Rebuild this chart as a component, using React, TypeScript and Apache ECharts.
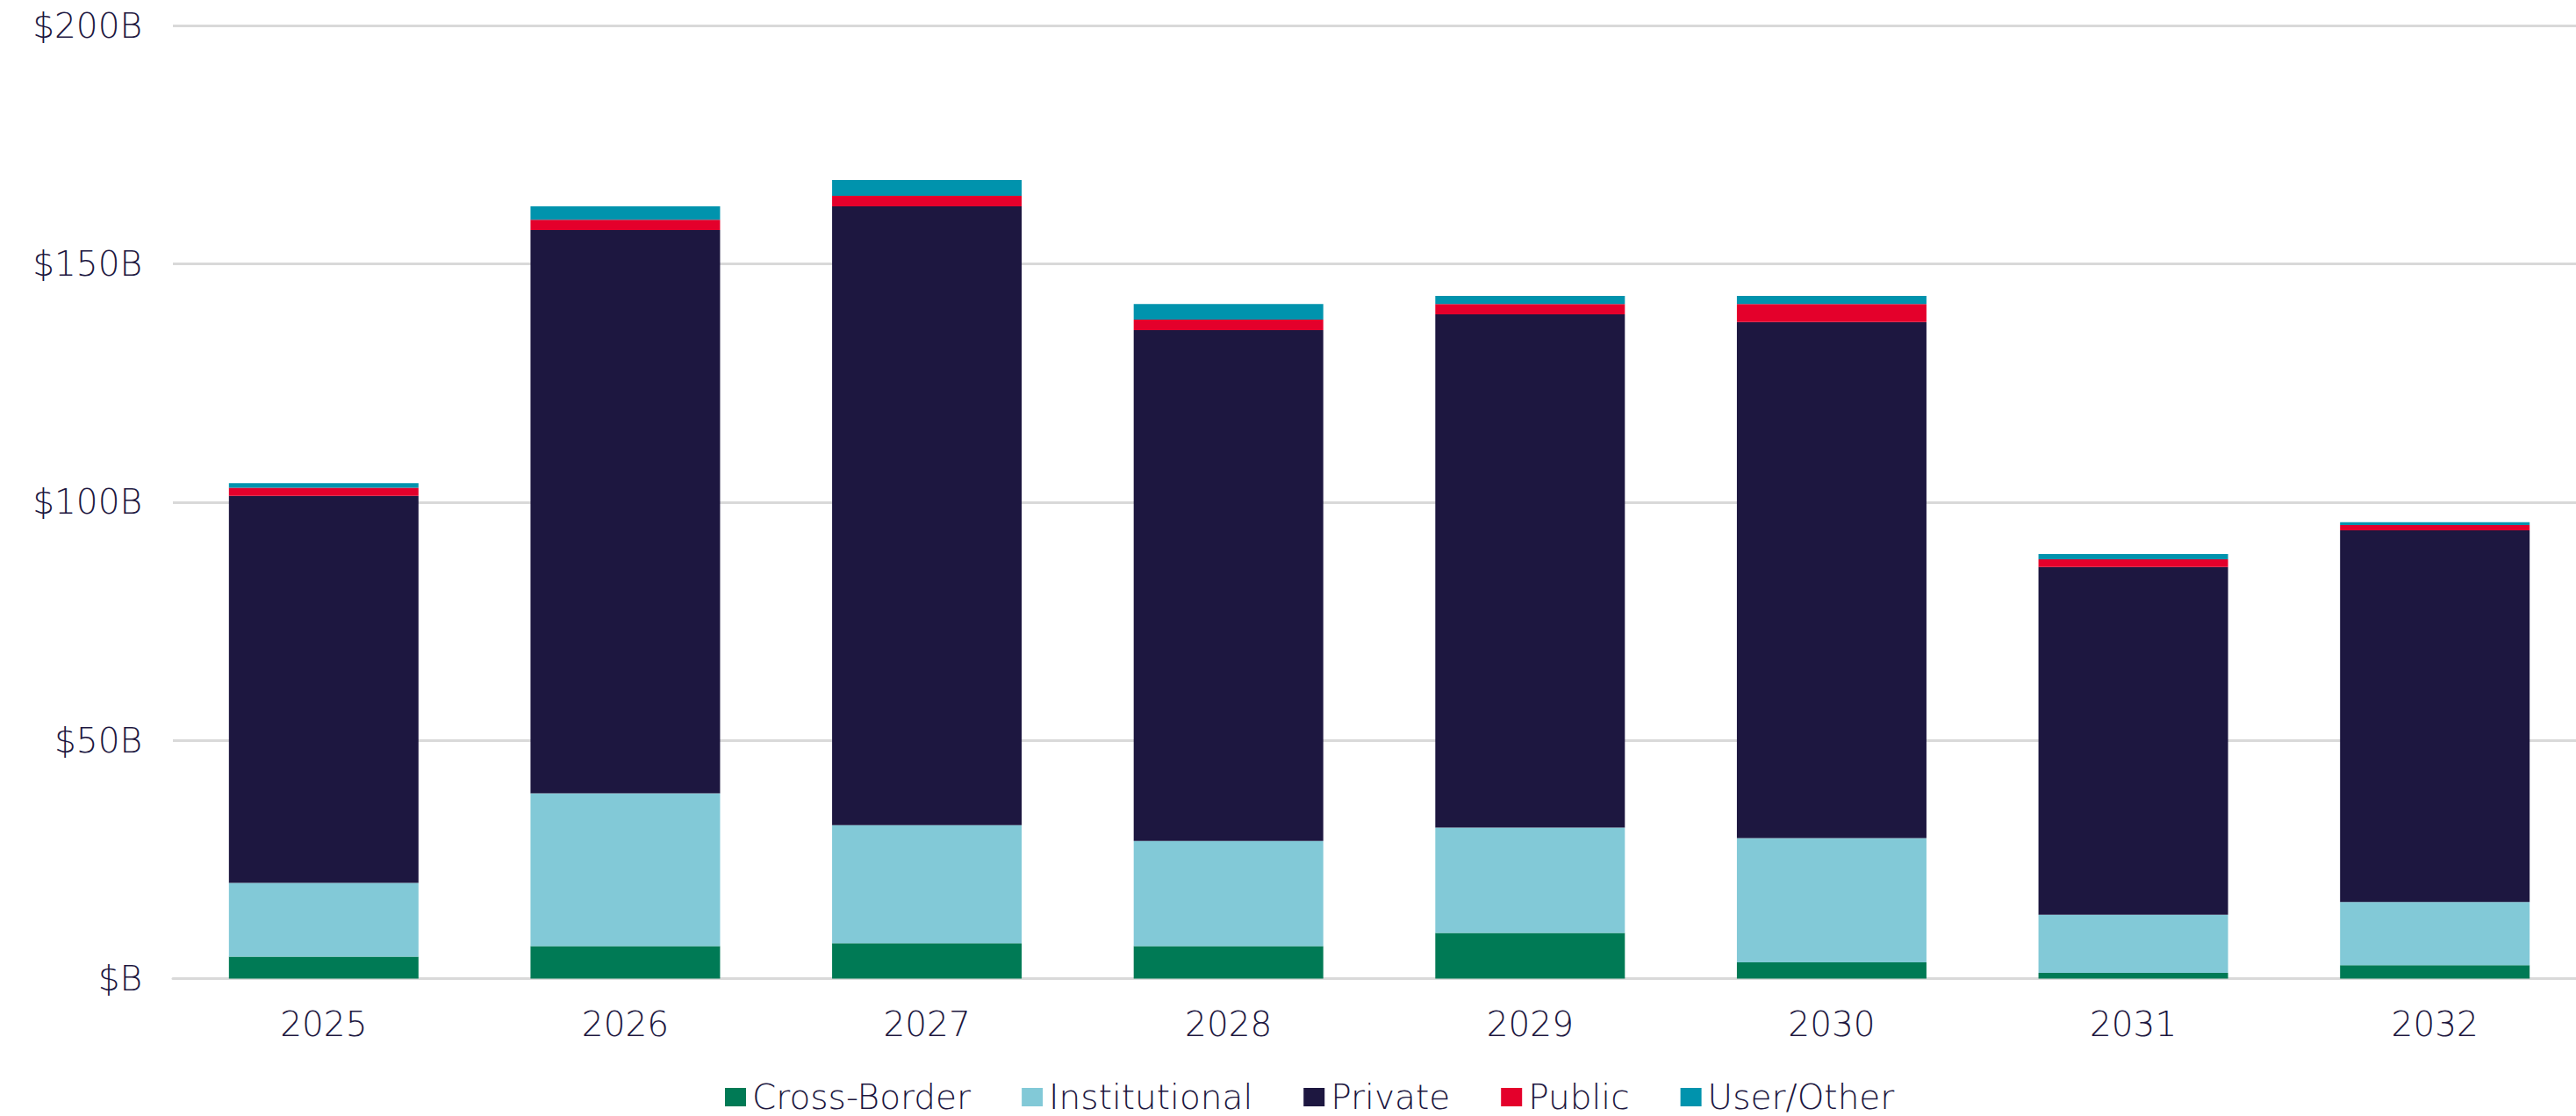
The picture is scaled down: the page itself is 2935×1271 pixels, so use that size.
import React, { useEffect, useRef } from "react";
import * as echarts from "echarts";

const years = ["2025", "2026", "2027", "2028", "2029", "2030", "2031", "2032"];
const crossBorder = [4.6, 6.8, 7.4, 6.8, 9.6, 3.4, 1.2, 2.8];
const institutional = [15.5, 32.1, 24.8, 22.1, 22.1, 26.1, 12.2, 13.3];
const privateVals = [81.2, 118.2, 129.9, 107.2, 107.7, 108.3, 73.0, 78.0];
const publicVals = [1.7, 2.2, 2.2, 2.2, 2.2, 3.8, 1.6, 1.1];
const userOther = [1.0, 2.8, 3.3, 3.3, 1.7, 1.7, 1.1, 0.6];
const yTicks = [0, 50, 100, 150, 200];

const seriesDefs = [
  { name: "Cross-Border", data: crossBorder, color: "#007a55" },
  { name: "Institutional", data: institutional, color: "#82c9d7" },
  { name: "Private", data: privateVals, color: "#1d1740" },
  { name: "Public", data: publicVals, color: "#e4002b" },
  { name: "User/Other", data: userOther, color: "#0093ad" },
];

const FONT = "DejaVu Sans";
const TEXT = "#1d1740";
const FS = 39;

export default function App() {
  const ref = useRef<HTMLDivElement>(null);
  useEffect(() => {
    if (!ref.current) return;
    const chart = echarts.init(ref.current, null, { renderer: "svg" });
    chart.setOption({
      animation: false,
      backgroundColor: "#ffffff",
      grid: { left: 197, right: 4, top: 29.3, bottom: 156.5 },
      legend: {
        left: 826,
        top: 1230,
        padding: 0,
        itemWidth: 24,
        itemHeight: 21,
        itemGap: 58,
        icon: "rect",
        textStyle: { fontFamily: FONT, fontSize: FS, fontWeight: 300, color: TEXT, padding: [0, 0, 0, 2] },
        data: seriesDefs.map((s) => s.name),
      },
      xAxis: {
        type: "category",
        data: years,
        axisLine: { show: true, lineStyle: { color: "#d9d9d9", width: 3 } },
        axisTick: { show: false },
        axisLabel: { margin: 32, fontFamily: FONT, fontSize: FS, fontWeight: 300, color: TEXT },
      },
      yAxis: {
        type: "value",
        min: yTicks[0],
        max: yTicks[yTicks.length - 1],
        interval: 50,
        axisLine: { show: false },
        axisTick: { show: false },
        splitLine: { show: true, lineStyle: { color: "#d9d9d9", width: 3 } },
        axisLabel: {
          margin: 35,
          fontFamily: FONT,
          fontSize: FS,
          fontWeight: 300,
          color: TEXT,
          formatter: (v: number) => (v === 0 ? "$B" : "$" + v + "B"),
        },
      },
      series: seriesDefs.map((s) => ({
        name: s.name,
        type: "bar",
        stack: "total",
        data: s.data,
        barWidth: 216,
        itemStyle: { color: s.color },
      })),
    });
    return () => chart.dispose();
  }, []);
  return (
    <div style={{ position: "fixed", left: 0, top: 0, width: 2935, height: 1271, overflow: "hidden", background: "#fff" }}>
      <div ref={ref} style={{ width: 2950, height: 1271 }} />
    </div>
  );
}
